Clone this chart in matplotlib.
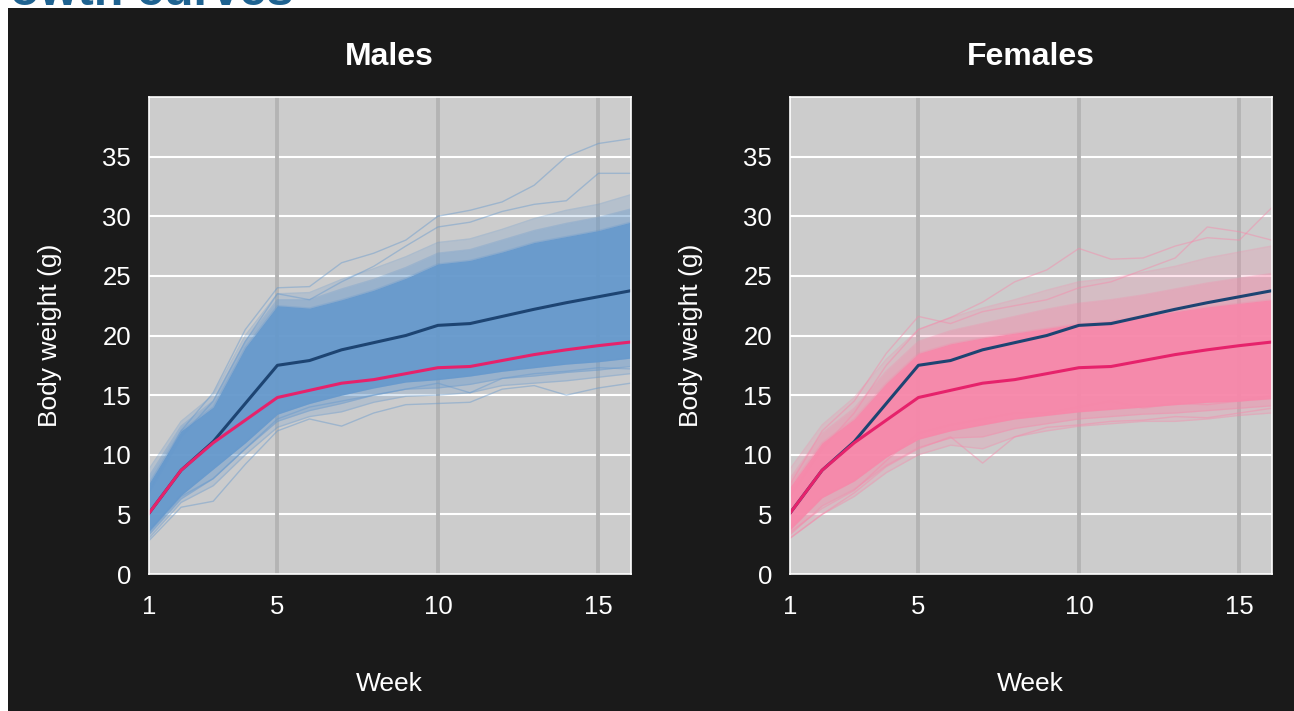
import matplotlib
matplotlib.use("Agg")
import matplotlib.pyplot as plt
from matplotlib.patches import Rectangle

plt.rcParams['font.family'] = ['Liberation Sans', 'DejaVu Sans']

# ---------------- data ----------------
weeks = [1, 2, 3, 4, 5, 6, 7, 8, 9, 10, 11, 12, 13, 14, 15, 16]

male_mean = [5.1, 8.7, 11.1, 14.3, 17.5, 17.9, 18.8, 19.4, 20.0, 20.85, 21.0, 21.6, 22.2, 22.75, 23.25, 23.75]
female_mean = [5.1, 8.7, 11.0, 12.9, 14.8, 15.4, 16.0, 16.3, 16.8, 17.3, 17.4, 17.9, 18.4, 18.8, 19.15, 19.45]

# dense (solid) region of individual male curves
male_dense_hi = [7.6, 12.0, 14.0, 19.0, 22.5, 22.3, 23.0, 23.8, 24.8, 26.0, 26.3, 27.0, 27.8, 28.3, 28.8, 29.5]
male_dense_lo = [3.6, 6.6, 8.8, 11.0, 13.4, 14.3, 15.0, 15.6, 16.1, 16.3, 16.6, 17.0, 17.3, 17.6, 17.8, 18.1]
# thinning region of individual male curves
male_mid_hi = [8.2, 12.4, 14.5, 19.5, 23.0, 23.0, 23.9, 24.7, 25.7, 26.9, 27.2, 28.0, 28.8, 29.4, 29.9, 30.6]
male_mid_lo = [3.3, 6.3, 8.0, 10.5, 12.8, 13.7, 14.3, 15.0, 15.5, 15.6, 15.9, 16.4, 16.6, 16.9, 17.1, 17.4]
# sparse region of individual male curves
male_sparse_hi = [8.8, 12.8, 15.0, 20.0, 23.5, 23.6, 24.7, 25.6, 26.6, 27.8, 28.1, 28.9, 29.8, 30.5, 31.0, 31.8]
male_sparse_lo = [3.0, 6.0, 7.4, 10.0, 12.3, 13.2, 13.6, 14.4, 14.9, 15.0, 15.2, 15.8, 16.0, 16.2, 16.5, 16.8]
# a few individual male curves that stand out
male_curve_a = [7.0, 12.0, 15.2, 20.5, 24.0, 24.1, 26.1, 26.9, 28.0, 30.0, 30.5, 31.2, 32.6, 35.0, 36.1, 36.5]
male_curve_b = [6.8, 11.5, 14.5, 19.5, 23.5, 23.0, 24.5, 25.8, 27.5, 29.1, 29.5, 30.4, 31.0, 31.3, 33.6, 33.6]
male_curve_c = [2.8, 5.6, 6.1, 9.2, 12.0, 13.0, 12.4, 13.5, 14.2, 14.3, 14.4, 15.5, 15.8, 15.0, 15.6, 16.0]
male_curve_d = [3.5, 6.5, 8.0, 10.5, 13.0, 14.0, 14.5, 15.0, 15.5, 16.0, 15.2, 16.4, 16.8, 17.0, 17.3, 17.2]

# dense (solid) region of individual female curves
female_dense_hi = [7.3, 11.0, 13.0, 16.0, 18.5, 19.3, 19.8, 20.2, 20.6, 21.0, 21.2, 21.6, 22.0, 22.4, 22.7, 23.0]
female_dense_lo = [3.7, 6.4, 7.8, 9.8, 11.3, 12.0, 12.5, 13.0, 13.3, 13.6, 13.8, 14.0, 14.2, 14.4, 14.5, 14.7]
female_mid_hi = [8.0, 11.8, 13.9, 17.0, 19.5, 20.4, 21.0, 21.6, 22.2, 22.7, 23.0, 23.4, 23.9, 24.4, 24.8, 25.2]
female_mid_lo = [3.3, 5.7, 7.1, 9.1, 10.6, 11.4, 11.5, 12.2, 12.6, 13.0, 13.2, 13.4, 13.5, 13.7, 13.9, 14.1]
female_sparse_hi = [8.8, 12.5, 14.8, 18.0, 20.5, 21.5, 22.3, 23.0, 23.8, 24.5, 24.8, 25.3, 25.8, 26.5, 27.0, 27.5]
female_sparse_lo = [3.0, 5.0, 6.5, 8.5, 10.0, 10.8, 10.5, 11.5, 12.0, 12.4, 12.6, 12.8, 12.8, 13.0, 13.3, 13.5]
female_curve_a = [6.5, 10.5, 13.5, 17.5, 20.5, 21.5, 22.8, 24.5, 25.5, 27.3, 26.4, 26.5, 27.5, 28.2, 28.0, 30.7]
female_curve_b = [7.5, 12.0, 14.5, 18.5, 21.6, 21.0, 22.0, 22.5, 23.0, 24.0, 24.5, 25.5, 26.5, 29.1, 28.7, 28.0]
female_curve_c = [3.0, 5.0, 6.8, 9.0, 10.5, 11.5, 9.3, 11.5, 12.3, 12.5, 12.8, 12.9, 13.2, 13.1, 13.5, 13.9]
female_curve_d = [3.5, 5.5, 7.0, 9.5, 11.8, 12.5, 13.0, 13.5, 13.5, 14.0, 14.5, 13.9, 14.3, 14.2, 14.5, 15.0]

x_ticks = [1, 5, 10, 15]
y_ticks = [0, 5, 10, 15, 20, 25, 30, 35]
panel_titles = ["Males", "Females"]

# ---------------- styling ----------------
W, H = 1294, 711
DARK = '#1a1a1a'
PANEL_BG = '#cccccc'
MALE_COL = '#6699cc'
FEMALE_COL = '#f788aa'
MALE_MEAN_COL = '#1d4472'
FEMALE_MEAN_COL = '#e6226b'

fig = plt.figure(figsize=(W / 100, H / 100), dpi=100)
fig.patch.set_facecolor('white')

fig.text(10 / W, 1 - 5 / H, 'owth curves', color='#1f6391', fontsize=35,
         fontweight='bold', ha='left', va='baseline', zorder=-2)
fig.patches.append(Rectangle((8 / W, 0), 1 - 8 / W, 1 - 8 / H,
                             transform=fig.transFigure, facecolor=DARK,
                             edgecolor='none', zorder=-1))

ax_w = 481.5 / W
ax_h = 477 / H
ax_b = (H - 574) / H
lefts = [149 / W, 790 / W]

panels = [
    (MALE_COL, male_dense_lo, male_dense_hi, male_mid_lo, male_mid_hi,
     male_sparse_lo, male_sparse_hi,
     [male_curve_a, male_curve_b, male_curve_c, male_curve_d]),
    (FEMALE_COL, female_dense_lo, female_dense_hi, female_mid_lo, female_mid_hi,
     female_sparse_lo, female_sparse_hi,
     [female_curve_a, female_curve_b, female_curve_c, female_curve_d]),
]

for left, title, (col, dlo, dhi, mlo, mhi, slo, shi, curves) in zip(lefts, panel_titles, panels):
    ax = fig.add_axes([left, ax_b, ax_w, ax_h])
    ax.set_facecolor(PANEL_BG)
    ax.set_xlim(weeks[0], weeks[-1])
    ax.set_ylim(0, 40)
    ax.set_xticks(x_ticks)
    ax.set_yticks(y_ticks)

    # grid
    for yv in y_ticks[1:]:
        ax.axhline(yv, color='white', lw=1.5, zorder=0.5)
    for xv in x_ticks:
        if xv > weeks[0]:
            ax.axvline(xv, color='#b4b4b4', lw=2.8, zorder=0.6)

    # individual curves summarised by bands + standout curves
    ax.fill_between(weeks, slo, shi, color=col, alpha=0.22, lw=0, zorder=1)
    ax.fill_between(weeks, mlo, mhi, color=col, alpha=0.35, lw=0, zorder=1.1)
    ax.fill_between(weeks, dlo, dhi, color=col, alpha=0.92, lw=0, zorder=1.2)
    for edge in (slo, shi, mlo, mhi, dlo, dhi):
        ax.plot(weeks, edge, color=col, alpha=0.3, lw=1, zorder=1.3)
    for c in curves:
        ax.plot(weeks, c, color=col, alpha=0.45, lw=1, zorder=1.4)

    # means
    ax.plot(weeks, male_mean, color=MALE_MEAN_COL, lw=2.2, zorder=3)
    ax.plot(weeks, female_mean, color=FEMALE_MEAN_COL, lw=2.2, zorder=3)

    for sp in ax.spines.values():
        sp.set_color('white')
        sp.set_linewidth(1.2)
        sp.set_zorder(4)

    ax.tick_params(axis='both', colors='white', length=0, labelsize=18.5)
    ax.tick_params(axis='x', pad=15)
    ax.tick_params(axis='y', pad=13)
    ax.set_title(title, color='white', fontsize=23, fontweight='bold', pad=23)
    ax.set_xlabel('Week', color='white', fontsize=19, labelpad=38)
    ax.set_ylabel('Body weight (g)', color='white', fontsize=19, labelpad=29)

fig.savefig('out.png', dpi=100, facecolor=fig.get_facecolor())
